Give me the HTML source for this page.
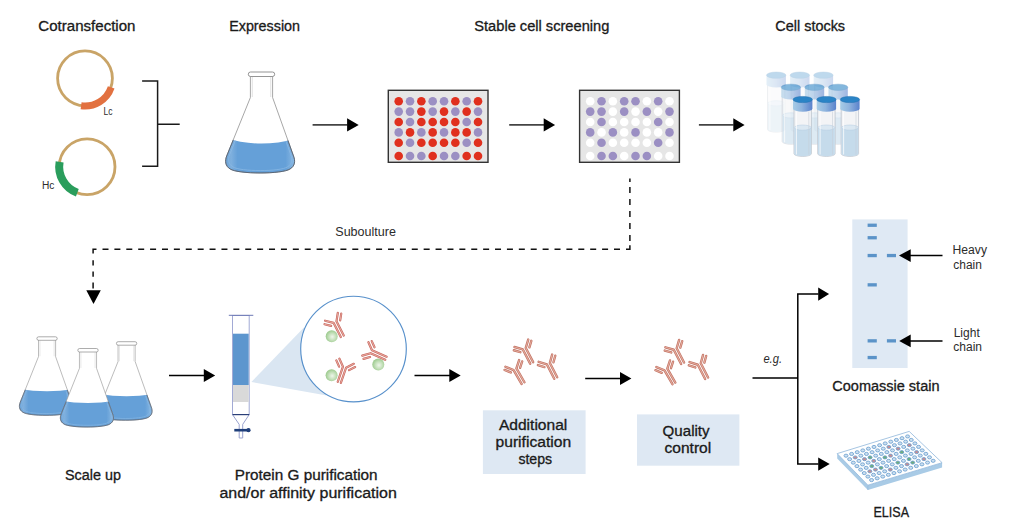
<!DOCTYPE html>
<html><head><meta charset="utf-8"><style>
html,body{margin:0;padding:0;background:#fff;}
body{width:1014px;height:526px;overflow:hidden;}
svg{display:block;}
text{font-family:"Liberation Sans",sans-serif;}
.t{font-size:14px;fill:#1a1a1a;stroke:#1a1a1a;stroke-width:0.3px;}
.s{font-size:12px;fill:#2b2b2b;}
</style></head><body>
<svg width="1014" height="526" viewBox="0 0 1014 526">
<defs>
  <!-- flask: centered x=0, rim top y=0 -->
  <clipPath id="flaskClip"><path d="M-11.1,4 L-11.1,25.5 L-34.8,84 C-36.8,89 -36.3,94 -31.3,97 C-23.3,102.3 20.5,102.3 28.5,97 C33.5,94 34,89 32,84 L11.1,25.5 L11.1,4 Z"/></clipPath>
  <linearGradient id="liqHi" x1="0" x2="1" y1="0" y2="0">
    <stop offset="0" stop-color="#5a98d2"/><stop offset="0.12" stop-color="#7fb0de"/><stop offset="0.2" stop-color="#65a0d8"/>
    <stop offset="0.8" stop-color="#65a0d8"/><stop offset="0.9" stop-color="#86b6e2"/><stop offset="1" stop-color="#5a98d2"/>
  </linearGradient>
<g id="flask">
    <path d="M-11.1,4 L-11.1,25.5 L-34.8,84 C-36.8,89 -36.3,94 -31.3,97 C-23.3,102.3 20.5,102.3 28.5,97 C33.5,94 34,89 32,84 L11.1,25.5 L11.1,4 Z" fill="#fff"/>
    <g clip-path="url(#flaskClip)">
      <path d="M-40,64.6 Q0,78.6 40,64.6 L40,110 L-40,110 Z" fill="url(#liqHi)"/>
      <line x1="-9.2" y1="5" x2="-9.2" y2="25" stroke="#e6e6e6" stroke-width="1.2"/>
      <line x1="9.2" y1="5" x2="9.2" y2="25" stroke="#e6e6e6" stroke-width="1.2"/>
    </g>
    <path d="M-11.1,4 L-11.1,25.5 L-34.8,84 C-36.8,89 -36.3,94 -31.3,97 C-23.3,102.3 20.5,102.3 28.5,97 C33.5,94 34,89 32,84 L11.1,25.5 L11.1,4" fill="none" stroke="#8a8a8a" stroke-width="0.75"/>
    <g clip-path="url(#liqClipflask)"><path d="M-11.1,4 L-11.1,25.5 L-34.8,84 C-36.8,89 -36.3,94 -31.3,97 C-23.3,102.3 20.5,102.3 28.5,97 C33.5,94 34,89 32,84 L11.1,25.5 L11.1,4" fill="none" stroke="#4b5a6e" stroke-width="0.8"/>
    <path d="M-11.1,4 L-11.1,25.5 L-34.8,84 C-36.8,89 -36.3,94 -31.3,97 C-23.3,102.3 20.5,102.3 28.5,97 C33.5,94 34,89 32,84 L11.1,25.5 L11.1,4" transform="translate(0,66.6) scale(0.915,0.93) translate(0,-66.6)" fill="none" stroke="#8dbbe5" stroke-width="0.9" opacity="0.85"/></g>
    <rect x="-13.2" y="0" width="26.4" height="4.5" rx="2.25" fill="#fff" stroke="#7a7a7a" stroke-width="0.8"/>
  </g>
  <clipPath id="liqClipflask"><path d="M-40,64.6 Q0,78.6 40,64.6 L40,110 L-40,110 Z"/></clipPath><g id="flask2">
    <path d="M-11.1,4 L-11.1,25.5 L-34.8,84 C-36.8,89 -36.3,94 -31.3,97 C-23.3,102.3 20.5,102.3 28.5,97 C33.5,94 34,89 32,84 L11.1,25.5 L11.1,4 Z" fill="#fff"/>
    <g clip-path="url(#flaskClip)">
      <path d="M-40,66.5 Q0,73.5 40,66.5 L40,110 L-40,110 Z" fill="url(#liqHi)"/>
      <line x1="-9.2" y1="5" x2="-9.2" y2="25" stroke="#e6e6e6" stroke-width="1.2"/>
      <line x1="9.2" y1="5" x2="9.2" y2="25" stroke="#e6e6e6" stroke-width="1.2"/>
    </g>
    <path d="M-11.1,4 L-11.1,25.5 L-34.8,84 C-36.8,89 -36.3,94 -31.3,97 C-23.3,102.3 20.5,102.3 28.5,97 C33.5,94 34,89 32,84 L11.1,25.5 L11.1,4" fill="none" stroke="#8a8a8a" stroke-width="0.75"/>
    <g clip-path="url(#liqClipflask2)"><path d="M-11.1,4 L-11.1,25.5 L-34.8,84 C-36.8,89 -36.3,94 -31.3,97 C-23.3,102.3 20.5,102.3 28.5,97 C33.5,94 34,89 32,84 L11.1,25.5 L11.1,4" fill="none" stroke="#4b5a6e" stroke-width="0.8"/>
    <path d="M-11.1,4 L-11.1,25.5 L-34.8,84 C-36.8,89 -36.3,94 -31.3,97 C-23.3,102.3 20.5,102.3 28.5,97 C33.5,94 34,89 32,84 L11.1,25.5 L11.1,4" transform="translate(0,68.5) scale(0.915,0.93) translate(0,-68.5)" fill="none" stroke="#8dbbe5" stroke-width="0.9" opacity="0.85"/></g>
    <rect x="-13.2" y="0" width="26.4" height="4.5" rx="2.25" fill="#fff" stroke="#7a7a7a" stroke-width="0.8"/>
  </g>
  <clipPath id="liqClipflask2"><path d="M-40,66.5 Q0,73.5 40,66.5 L40,110 L-40,110 Z"/></clipPath>
  <marker id="ah" viewBox="0 0 12 13" refX="0" refY="6.5" markerWidth="12" markerHeight="13" markerUnits="userSpaceOnUse" orient="auto"><path d="M0,0 L12,6.5 L0,13 Z" fill="#000"/></marker>
  <!-- antibody, fork at origin, stem down -->
  
  <radialGradient id="ball" cx="0.55" cy="0.55" r="0.55">
    <stop offset="0" stop-color="#eef6ea"/><stop offset="0.55" stop-color="#c4e0ba"/><stop offset="1" stop-color="#9cca8e"/>
  </radialGradient>
  <linearGradient id="capSide" x1="0" x2="1" y1="0" y2="0">
    <stop offset="0" stop-color="#a6cce6"/><stop offset="0.45" stop-color="#8fb4de"/><stop offset="1" stop-color="#5a82cc"/>
  </linearGradient>
  <linearGradient id="capTop" x1="0" x2="1" y1="0" y2="1">
    <stop offset="0" stop-color="#2d7fc2"/><stop offset="1" stop-color="#3a87c8"/>
  </linearGradient>
  <g id="vial">
    <path d="M1,12 L1,57.3 A8.7,2.7 0 0 0 18.4,57.3 L18.4,12 Z" fill="#f3f4f6" stroke="#b4bcc5" stroke-width="0.7"/>
    <path d="M1.3,31.4 L1.3,57.3 A8.4,2.5 0 0 0 18.1,57.3 L18.1,31.4 Z" fill="#c5dbeb"/>
    <ellipse cx="9.7" cy="31.2" rx="8.4" ry="2.6" fill="#dbe8f2" stroke="#b3cbe0" stroke-width="0.5"/>
    <line x1="3.4" y1="15" x2="3.4" y2="58" stroke="#ffffff" stroke-width="1.1" opacity="0.7"/>
    <line x1="15.8" y1="15" x2="15.8" y2="58" stroke="#c7d0da" stroke-width="0.7" opacity="0.8"/>
    <path d="M0,3.1 L0,12.3 A9.7,3 0 0 0 19.4,12.3 L19.4,3.1 Z" fill="url(#capSide)"/>
    <ellipse cx="9.7" cy="3.1" rx="9.7" ry="3.1" fill="#2b84c6" stroke="#2370b0" stroke-width="0.5"/>
  </g>
</defs>

<!-- ============ TOP ROW ============ -->
<text class="t" x="38.3" y="30.9" textLength="97.2" lengthAdjust="spacingAndGlyphs">Cotransfection</text>
<text class="t" x="229.2" y="30.9" textLength="70.8" lengthAdjust="spacingAndGlyphs">Expression</text>
<text class="t" x="474.3" y="30.9" textLength="135" lengthAdjust="spacingAndGlyphs">Stable cell screening</text>
<text class="t" x="775.3" y="30.9" textLength="69.8" lengthAdjust="spacingAndGlyphs">Cell stocks</text>

<!-- plasmids -->
<circle cx="85" cy="78.3" r="27.4" fill="none" stroke="#c9a467" stroke-width="2.8"/>
<path d="M111.2,87.3 A27.7,27.7 0 0 1 81.1,105.7" fill="none" stroke="#e27140" stroke-width="7"/>
<text x="103.4" y="114.6" font-size="10.5" fill="#2b2b2b" textLength="9" lengthAdjust="spacingAndGlyphs">Lc</text>
<circle cx="87.1" cy="166.7" r="27.9" fill="none" stroke="#c9a467" stroke-width="2.8"/>
<path d="M77.33,192.83 A27.9,27.9 0 0 1 59.62,161.86" fill="none" stroke="#2a9d5c" stroke-width="8"/>
<text x="42" y="189.1" font-size="10" fill="#2b2b2b" textLength="12.4" lengthAdjust="spacingAndGlyphs">Hc</text>

<!-- bracket -->
<path d="M142.1,80.9 H157.6 V166.3 H142.1 M157.6,124.3 H179.7" fill="none" stroke="#1a1a1a" stroke-width="1.5"/>

<!-- expression flask -->
<use href="#flask" transform="translate(261.5,72)"/>

<!-- arrows top -->
<g stroke="#444" stroke-width="1.6">
  <line x1="312.6" y1="124.9" x2="347.5" y2="124.9"/>
  <line x1="509.2" y1="124.9" x2="544" y2="124.9"/>
  <line x1="698.9" y1="124.9" x2="733.6" y2="124.9"/>
</g>
<path d="M347.1,118.2 L358.7,124.9 L347.1,131.6 Z M543.7,118.2 L555.1,124.9 L543.7,131.6 Z M733.3,118.2 L744.6,124.9 L733.3,131.6 Z" fill="#000"/>

<!-- plate 1 -->
<rect x="388.3" y="90.3" width="99.7" height="72" fill="#e6e6e6" stroke="#333" stroke-width="1.4"/>
<g><circle cx="398.70" cy="101.30" r="4.3" fill="#e0301e"/><circle cx="410.03" cy="101.30" r="4.3" fill="#9b8fc3"/><circle cx="421.36" cy="101.30" r="4.3" fill="#e0301e"/><circle cx="432.69" cy="101.30" r="4.3" fill="#9b8fc3"/><circle cx="444.02" cy="101.30" r="4.3" fill="#9b8fc3"/><circle cx="455.35" cy="101.30" r="4.3" fill="#e0301e"/><circle cx="466.68" cy="101.30" r="4.3" fill="#9b8fc3"/><circle cx="478.01" cy="101.30" r="4.3" fill="#e0301e"/><circle cx="398.70" cy="111.60" r="4.3" fill="#9b8fc3"/><circle cx="410.03" cy="111.60" r="4.3" fill="#9b8fc3"/><circle cx="421.36" cy="111.60" r="4.3" fill="#e0301e"/><circle cx="432.69" cy="111.60" r="4.3" fill="#9b8fc3"/><circle cx="444.02" cy="111.60" r="4.3" fill="#e0301e"/><circle cx="455.35" cy="111.60" r="4.3" fill="#9b8fc3"/><circle cx="466.68" cy="111.60" r="4.3" fill="#e0301e"/><circle cx="478.01" cy="111.60" r="4.3" fill="#9b8fc3"/><circle cx="398.70" cy="122.00" r="4.3" fill="#e0301e"/><circle cx="410.03" cy="122.00" r="4.3" fill="#9b8fc3"/><circle cx="421.36" cy="122.00" r="4.3" fill="#e0301e"/><circle cx="432.69" cy="122.00" r="4.3" fill="#e0301e"/><circle cx="444.02" cy="122.00" r="4.3" fill="#e0301e"/><circle cx="455.35" cy="122.00" r="4.3" fill="#e0301e"/><circle cx="466.68" cy="122.00" r="4.3" fill="#9b8fc3"/><circle cx="478.01" cy="122.00" r="4.3" fill="#e0301e"/><circle cx="398.70" cy="132.40" r="4.3" fill="#9b8fc3"/><circle cx="410.03" cy="132.40" r="4.3" fill="#e0301e"/><circle cx="421.36" cy="132.40" r="4.3" fill="#9b8fc3"/><circle cx="432.69" cy="132.40" r="4.3" fill="#e0301e"/><circle cx="444.02" cy="132.40" r="4.3" fill="#9b8fc3"/><circle cx="455.35" cy="132.40" r="4.3" fill="#e0301e"/><circle cx="466.68" cy="132.40" r="4.3" fill="#e0301e"/><circle cx="478.01" cy="132.40" r="4.3" fill="#9b8fc3"/><circle cx="398.70" cy="142.80" r="4.3" fill="#e0301e"/><circle cx="410.03" cy="142.80" r="4.3" fill="#9b8fc3"/><circle cx="421.36" cy="142.80" r="4.3" fill="#e0301e"/><circle cx="432.69" cy="142.80" r="4.3" fill="#e0301e"/><circle cx="444.02" cy="142.80" r="4.3" fill="#e0301e"/><circle cx="455.35" cy="142.80" r="4.3" fill="#e0301e"/><circle cx="466.68" cy="142.80" r="4.3" fill="#9b8fc3"/><circle cx="478.01" cy="142.80" r="4.3" fill="#e0301e"/><circle cx="398.70" cy="156.00" r="4.3" fill="#e0301e"/><circle cx="410.03" cy="156.00" r="4.3" fill="#9b8fc3"/><circle cx="421.36" cy="156.00" r="4.3" fill="#9b8fc3"/><circle cx="432.69" cy="156.00" r="4.3" fill="#e0301e"/><circle cx="444.02" cy="156.00" r="4.3" fill="#9b8fc3"/><circle cx="455.35" cy="156.00" r="4.3" fill="#9b8fc3"/><circle cx="466.68" cy="156.00" r="4.3" fill="#e0301e"/><circle cx="478.01" cy="156.00" r="4.3" fill="#e0301e"/></g>
<!-- plate 2 -->
<rect x="579.6" y="90.3" width="99.8" height="72" fill="#e6e6e6" stroke="#333" stroke-width="1.4"/>
<g><circle cx="590.20" cy="101.30" r="4.3" fill="#ffffff"/><circle cx="601.53" cy="101.30" r="4.3" fill="#9b8fc3"/><circle cx="612.86" cy="101.30" r="4.3" fill="#ffffff"/><circle cx="624.19" cy="101.30" r="4.3" fill="#9b8fc3"/><circle cx="635.52" cy="101.30" r="4.3" fill="#9b8fc3"/><circle cx="646.85" cy="101.30" r="4.3" fill="#ffffff"/><circle cx="658.18" cy="101.30" r="4.3" fill="#9b8fc3"/><circle cx="669.51" cy="101.30" r="4.3" fill="#ffffff"/><circle cx="590.20" cy="111.60" r="4.3" fill="#9b8fc3"/><circle cx="601.53" cy="111.60" r="4.3" fill="#9b8fc3"/><circle cx="612.86" cy="111.60" r="4.3" fill="#ffffff"/><circle cx="624.19" cy="111.60" r="4.3" fill="#9b8fc3"/><circle cx="635.52" cy="111.60" r="4.3" fill="#ffffff"/><circle cx="646.85" cy="111.60" r="4.3" fill="#9b8fc3"/><circle cx="658.18" cy="111.60" r="4.3" fill="#ffffff"/><circle cx="669.51" cy="111.60" r="4.3" fill="#9b8fc3"/><circle cx="590.20" cy="122.00" r="4.3" fill="#ffffff"/><circle cx="601.53" cy="122.00" r="4.3" fill="#9b8fc3"/><circle cx="612.86" cy="122.00" r="4.3" fill="#ffffff"/><circle cx="624.19" cy="122.00" r="4.3" fill="#ffffff"/><circle cx="635.52" cy="122.00" r="4.3" fill="#ffffff"/><circle cx="646.85" cy="122.00" r="4.3" fill="#ffffff"/><circle cx="658.18" cy="122.00" r="4.3" fill="#9b8fc3"/><circle cx="669.51" cy="122.00" r="4.3" fill="#ffffff"/><circle cx="590.20" cy="132.40" r="4.3" fill="#9b8fc3"/><circle cx="601.53" cy="132.40" r="4.3" fill="#ffffff"/><circle cx="612.86" cy="132.40" r="4.3" fill="#9b8fc3"/><circle cx="624.19" cy="132.40" r="4.3" fill="#ffffff"/><circle cx="635.52" cy="132.40" r="4.3" fill="#9b8fc3"/><circle cx="646.85" cy="132.40" r="4.3" fill="#ffffff"/><circle cx="658.18" cy="132.40" r="4.3" fill="#ffffff"/><circle cx="669.51" cy="132.40" r="4.3" fill="#9b8fc3"/><circle cx="590.20" cy="142.80" r="4.3" fill="#ffffff"/><circle cx="601.53" cy="142.80" r="4.3" fill="#9b8fc3"/><circle cx="612.86" cy="142.80" r="4.3" fill="#ffffff"/><circle cx="624.19" cy="142.80" r="4.3" fill="#ffffff"/><circle cx="635.52" cy="142.80" r="4.3" fill="#ffffff"/><circle cx="646.85" cy="142.80" r="4.3" fill="#ffffff"/><circle cx="658.18" cy="142.80" r="4.3" fill="#9b8fc3"/><circle cx="669.51" cy="142.80" r="4.3" fill="#ffffff"/><circle cx="590.20" cy="156.00" r="4.3" fill="#ffffff"/><circle cx="601.53" cy="156.00" r="4.3" fill="#9b8fc3"/><circle cx="612.86" cy="156.00" r="4.3" fill="#9b8fc3"/><circle cx="624.19" cy="156.00" r="4.3" fill="#ffffff"/><circle cx="635.52" cy="156.00" r="4.3" fill="#9b8fc3"/><circle cx="646.85" cy="156.00" r="4.3" fill="#9b8fc3"/><circle cx="658.18" cy="156.00" r="4.3" fill="#ffffff"/><circle cx="669.51" cy="156.00" r="4.3" fill="#ffffff"/></g>

<!-- vials -->
<g opacity="0.3">
  <use href="#vial" x="766.5" y="72.1"/><use href="#vial" x="790.1" y="72.1"/><use href="#vial" x="813.7" y="72.1"/>
</g>
<g opacity="0.58">
  <use href="#vial" x="781.2" y="84.2"/><use href="#vial" x="804.8" y="84.2"/><use href="#vial" x="828.4" y="84.2"/>
</g>
<g>
  <use href="#vial" x="793" y="96.4"/><use href="#vial" x="816.7" y="96.4"/><use href="#vial" x="840.2" y="96.4"/>
</g>

<!-- dashed subculture -->
<path d="M629.9,178.6V182M629.9,187.1V193.1M629.9,199V205.1M629.9,211V217.1M629.9,223.1V229.1M629.9,235V241.1M629.9,245.3V249.3H626M102.50,249.3H108.50M114.39,249.3H120.39M126.29,249.3H132.29M138.19,249.3H144.19M150.08,249.3H156.08M161.97,249.3H167.97M173.87,249.3H179.87M185.76,249.3H191.76M197.66,249.3H203.66M209.56,249.3H215.56M221.45,249.3H227.45M233.34,249.3H239.34M245.24,249.3H251.24M257.13,249.3H263.13M269.03,249.3H275.03M280.92,249.3H286.92M292.82,249.3H298.82M304.72,249.3H310.72M316.61,249.3H322.61M328.50,249.3H334.50M340.40,249.3H346.40M352.29,249.3H358.29M364.19,249.3H370.19M376.08,249.3H382.08M387.98,249.3H393.98M399.88,249.3H405.88M411.77,249.3H417.77M423.66,249.3H429.66M435.56,249.3H441.56M447.45,249.3H453.45M459.35,249.3H465.35M471.25,249.3H477.25M483.14,249.3H489.14M495.03,249.3H501.03M506.93,249.3H512.93M518.83,249.3H524.83M530.72,249.3H536.72M542.62,249.3H548.62M554.51,249.3H560.51M566.40,249.3H572.40M578.30,249.3H584.30M590.19,249.3H596.19M602.09,249.3H608.09M613.98,249.3H619.98M96.5,249.3H93.1V253.4M93.1,260.2V265.6M93.1,271.4V276.8M93.1,282.5V288.5" fill="none" stroke="#111" stroke-width="1.5"/>
<path d="M86.3,290.2 L100.8,290.2 L93.5,304 Z" fill="#000"/>
<text class="s" x="335.3" y="235.6" textLength="60.6" lengthAdjust="spacingAndGlyphs" font-size="12.5">Suboulture</text>

<!-- ============ BOTTOM ROW ============ -->
<!-- scale up flasks -->
<use href="#flask2" transform="translate(47.05,336.8) scale(0.77,0.778)"/>
<use href="#flask2" transform="translate(126.6,341.7) scale(0.77,0.778)"/>
<use href="#flask2" transform="translate(88,348.5) scale(0.77,0.778)"/>

<text class="t" x="65" y="480.1" textLength="56" lengthAdjust="spacingAndGlyphs">Scale up</text>

<!-- arrows bottom -->
<g stroke="#000" stroke-width="1.5">
  <line x1="169" y1="375.5" x2="204.5" y2="375.5"/>
  <line x1="414.5" y1="375.5" x2="450" y2="375.5"/>
  <line x1="585.2" y1="378.5" x2="620.5" y2="378.5"/>
</g>
<path d="M203.8,369 L215.2,375.5 L203.8,382 Z M449.3,369 L460.7,375.5 L449.3,382 Z M620,372 L631.4,378.5 L620,385 Z" fill="#000"/>

<!-- cone + circle -->
<path d="M251.4,382 L303.9,327.6 L326.7,395.4 Z" fill="#dae6f2"/>
<circle cx="353.5" cy="349" r="52.8" fill="#fff" stroke="#5790cb" stroke-width="1.15"/>

<!-- column -->
<rect x="232.5" y="315.5" width="16.7" height="99" fill="#fff" stroke="#a2aad5" stroke-width="1"/>
<rect x="233" y="333.7" width="15.7" height="51.3" fill="#5d96ce"/>
<rect x="233" y="385" width="15.7" height="17" fill="#d9d9d9"/>
<line x1="228.8" y1="315.3" x2="253.3" y2="315.3" stroke="#6d78b5" stroke-width="1"/>
<path d="M232.5,414.6 L239.2,424.4 L239.2,438 L242.7,438 L242.7,424.4 L249.2,414.6" fill="#fff" stroke="#9aa3cf" stroke-width="1"/>
<line x1="232.5" y1="414.6" x2="249.2" y2="414.6" stroke="#2a3f78" stroke-width="1.2"/>
<line x1="234.3" y1="430.2" x2="248" y2="430.2" stroke="#1f3f7a" stroke-width="2.6"/>
<circle cx="248.5" cy="430.2" r="2.1" fill="#1f3f7a"/>

<text class="t" x="234.8" y="480.4" textLength="142.8" lengthAdjust="spacingAndGlyphs">Protein G purification</text>
<text class="t" x="219.4" y="498" textLength="177.4" lengthAdjust="spacingAndGlyphs">and/or affinity purification</text>

<!-- antibodies in circle -->
<circle cx="331.7" cy="336.2" r="6" fill="url(#ball)"/>
<circle cx="331.6" cy="375.3" r="6" fill="url(#ball)"/>
<circle cx="378.3" cy="364.6" r="6" fill="url(#ball)"/>
<g transform="translate(335.0,322.1) rotate(-27.0)" fill="none" stroke-linecap="round" stroke-linejoin="round"><path d="M-1.65,16.00 L-1.65,0.00 L-8.22,-5.71M1.65,16.00 L1.65,0.00 L6.76,-7.04M-5.15,1.59 L-10.29,-2.87M5.42,0.76 L9.42,-4.74" stroke="#c4625a" stroke-width="2.2"/><path d="M-1.65,16.00 L-1.65,0.00 L-8.22,-5.71M1.65,16.00 L1.65,0.00 L6.76,-7.04M-5.15,1.59 L-10.29,-2.87M5.42,0.76 L9.42,-4.74" stroke="#e6a49a" stroke-width="1.1"/></g>
<g transform="translate(344.5,367.2) rotate(19.0)" fill="none" stroke-linecap="round" stroke-linejoin="round"><path d="M-1.65,16.00 L-1.65,0.00 L-7.58,-6.36M1.65,16.00 L1.65,0.00 L7.69,-6.26M-5.30,1.22 L-9.94,-3.76M5.28,1.28 L10.00,-3.61" stroke="#c4625a" stroke-width="2.2"/><path d="M-1.65,16.00 L-1.65,0.00 L-7.58,-6.36M1.65,16.00 L1.65,0.00 L7.69,-6.26M-5.30,1.22 L-9.94,-3.76M5.28,1.28 L10.00,-3.61" stroke="#e6a49a" stroke-width="1.1"/></g>
<g transform="translate(371.3,351.7) rotate(-66.0)" fill="none" stroke-linecap="round" stroke-linejoin="round"><path d="M-1.65,16.00 L-1.65,0.00 L-7.24,-6.66M1.65,16.00 L1.65,0.00 L7.47,-6.47M-5.36,1.02 L-9.73,-4.19M5.32,1.15 L9.87,-3.90" stroke="#c4625a" stroke-width="2.2"/><path d="M-1.65,16.00 L-1.65,0.00 L-7.24,-6.66M1.65,16.00 L1.65,0.00 L7.47,-6.47M-5.36,1.02 L-9.73,-4.19M5.32,1.15 L9.87,-3.90" stroke="#e6a49a" stroke-width="1.1"/></g>

<!-- antibody groups -->
<g id="abgrp">
  <g transform="translate(524.3,348.7) rotate(-27.5)" fill="none" stroke-linecap="round" stroke-linejoin="round"><path d="M-1.65,16.00 L-1.65,0.00 L-7.91,-6.04M1.65,16.00 L1.65,0.00 L7.69,-6.26M-5.09,1.26 L-9.98,-3.46M5.14,1.14 L9.86,-3.75" stroke="#c17263" stroke-width="2.4"/><path d="M-1.65,16.00 L-1.65,0.00 L-7.91,-6.04M1.65,16.00 L1.65,0.00 L7.69,-6.26M-5.09,1.26 L-9.98,-3.46M5.14,1.14 L9.86,-3.75" stroke="#e3aa9c" stroke-width="1.1"/></g>
  <g transform="translate(515.0,369.2) rotate(-30.0)" fill="none" stroke-linecap="round" stroke-linejoin="round"><path d="M-1.65,16.00 L-1.65,0.00 L-7.01,-6.86M1.65,16.00 L1.65,0.00 L8.12,-5.82M-5.24,0.77 L-9.42,-4.59M5.05,1.38 L10.10,-3.17" stroke="#c17263" stroke-width="2.4"/><path d="M-1.65,16.00 L-1.65,0.00 L-7.01,-6.86M1.65,16.00 L1.65,0.00 L8.12,-5.82M-5.24,0.77 L-9.42,-4.59M5.05,1.38 L10.10,-3.17" stroke="#e3aa9c" stroke-width="1.1"/></g>
  <g transform="translate(548.4,363.7) rotate(-27.2)" fill="none" stroke-linecap="round" stroke-linejoin="round"><path d="M-1.65,16.00 L-1.65,0.00 L-7.80,-6.15M1.65,16.00 L1.65,0.00 L7.53,-6.41M-5.11,1.20 L-9.92,-3.61M5.16,1.05 L9.76,-3.96" stroke="#c17263" stroke-width="2.4"/><path d="M-1.65,16.00 L-1.65,0.00 L-7.80,-6.15M1.65,16.00 L1.65,0.00 L7.53,-6.41M-5.11,1.20 L-9.92,-3.61M5.16,1.05 L9.76,-3.96" stroke="#e3aa9c" stroke-width="1.1"/></g>
</g>
<use href="#abgrp" transform="translate(150.9,0.3)"/>

<!-- boxes -->
<rect x="482.9" y="410.3" width="102.7" height="63.7" fill="#dee8f3"/>
<text class="t" x="498.9" y="429.6" textLength="68.4" lengthAdjust="spacingAndGlyphs">Additional</text>
<text class="t" x="495.5" y="447" textLength="75.6" lengthAdjust="spacingAndGlyphs">purification</text>
<text class="t" x="518.4" y="464.3" textLength="33.7" lengthAdjust="spacingAndGlyphs">steps</text>
<rect x="637" y="414.4" width="102.4" height="51.3" fill="#dee8f3"/>
<text class="t" x="662.6" y="435.7" textLength="47" lengthAdjust="spacingAndGlyphs">Quality</text>
<text class="t" x="664.5" y="453.2" textLength="46.7" lengthAdjust="spacingAndGlyphs">control</text>

<!-- branch -->
<path d="M752.5,378.1 H797.8 M818.5,294.1 H797.8 V464.1 H818.5" fill="none" stroke="#000" stroke-width="1.5"/>
<path d="M818.2,287.4 L829.1,294.1 L818.2,300.8 Z M818.2,457.4 L829.7,464.1 L818.2,470.8 Z" fill="#000"/>
<text x="763.4" y="362.6" font-size="12" font-style="italic" fill="#2b2b2b" textLength="18.6" lengthAdjust="spacingAndGlyphs">e.g.</text>

<!-- gel -->
<rect x="852.3" y="219.4" width="55.3" height="148.6" fill="#dfe9f4"/>
<g fill="#5b93c8">
  <rect x="867.6" y="223.6" width="9.2" height="3.3"/>
  <rect x="867.6" y="236.1" width="9.2" height="3.3"/>
  <rect x="867.6" y="253.9" width="9.2" height="3.3"/>
  <rect x="867.6" y="283.2" width="9.2" height="3.3"/>
  <rect x="867.6" y="339.2" width="9.2" height="3.3"/>
  <rect x="867.6" y="355.9" width="9.2" height="3.3"/>
  <rect x="886.9" y="253.9" width="9.1" height="3.3"/>
  <rect x="886.9" y="339.2" width="9.1" height="3.3"/>
</g>
<g stroke="#000" stroke-width="1.5">
  <line x1="910" y1="255.6" x2="942.5" y2="255.6"/>
  <line x1="910" y1="340.9" x2="942.5" y2="340.9"/>
</g>
<path d="M910.7,249.2 L899,255.6 L910.7,262 Z M910.7,334.5 L899.2,340.9 L910.7,347.3 Z" fill="#000"/>
<g class="s">
<text x="952.6" y="253.8" textLength="34.4" lengthAdjust="spacingAndGlyphs">Heavy</text>
<text x="953.3" y="268.7" textLength="28.6" lengthAdjust="spacingAndGlyphs">chain</text>
<text x="953.7" y="336.7">Light</text>
<text x="953.3" y="351">chain</text>
</g>
<text class="t" x="832.3" y="391.1" textLength="107.2" lengthAdjust="spacingAndGlyphs">Coomassie stain</text>

<!-- ELISA plate -->
<g><path d="M837.2,453.6 L867.9,485.2 L942.1,462.7 L942.1,467.5 L867.9,490.0 L837.2,458.40000000000003 Z" fill="#a9cbe6"/><path d="M867.9,485.2 L867.9,490.0" stroke="#8fb6da" stroke-width="0.6"/><path d="M837.2,453.6 L909.2,431.4 L942.1,462.7 L867.9,485.2 Z" fill="#fff" stroke="#8fb6da" stroke-width="0.8"/><ellipse cx="846.00" cy="455.70" rx="2.0" ry="1.55" fill="#cde0f0" stroke="#6c9fd0" stroke-width="0.85"/><ellipse cx="849.65" cy="459.18" rx="2.0" ry="1.55" fill="#cde0f0" stroke="#6c9fd0" stroke-width="0.85"/><ellipse cx="853.30" cy="462.66" rx="2.0" ry="1.55" fill="#cde0f0" stroke="#6c9fd0" stroke-width="0.85"/><ellipse cx="856.95" cy="466.14" rx="2.0" ry="1.55" fill="#cde0f0" stroke="#6c9fd0" stroke-width="0.85"/><ellipse cx="860.60" cy="469.62" rx="2.0" ry="1.55" fill="#cde0f0" stroke="#6c9fd0" stroke-width="0.85"/><ellipse cx="864.25" cy="473.10" rx="2.0" ry="1.55" fill="#cde0f0" stroke="#6c9fd0" stroke-width="0.85"/><ellipse cx="867.90" cy="476.58" rx="2.0" ry="1.55" fill="#cde0f0" stroke="#6c9fd0" stroke-width="0.85"/><ellipse cx="871.55" cy="480.06" rx="2.0" ry="1.55" fill="#cde0f0" stroke="#6c9fd0" stroke-width="0.85"/><ellipse cx="851.60" cy="453.95" rx="2.0" ry="1.55" fill="#cde0f0" stroke="#6c9fd0" stroke-width="0.85"/><ellipse cx="855.25" cy="457.43" rx="2.0" ry="1.55" fill="#c58e94" stroke="#6c9fd0" stroke-width="0.85"/><ellipse cx="858.90" cy="460.91" rx="2.0" ry="1.55" fill="#cde0f0" stroke="#6c9fd0" stroke-width="0.85"/><ellipse cx="862.55" cy="464.39" rx="2.0" ry="1.55" fill="#cde0f0" stroke="#6c9fd0" stroke-width="0.85"/><ellipse cx="866.20" cy="467.87" rx="2.0" ry="1.55" fill="#cde0f0" stroke="#6c9fd0" stroke-width="0.85"/><ellipse cx="869.85" cy="471.35" rx="2.0" ry="1.55" fill="#c58e94" stroke="#6c9fd0" stroke-width="0.85"/><ellipse cx="873.50" cy="474.83" rx="2.0" ry="1.55" fill="#cde0f0" stroke="#6c9fd0" stroke-width="0.85"/><ellipse cx="877.15" cy="478.31" rx="2.0" ry="1.55" fill="#cde0f0" stroke="#6c9fd0" stroke-width="0.85"/><ellipse cx="857.20" cy="452.20" rx="2.0" ry="1.55" fill="#cde0f0" stroke="#6c9fd0" stroke-width="0.85"/><ellipse cx="860.85" cy="455.68" rx="2.0" ry="1.55" fill="#cde0f0" stroke="#6c9fd0" stroke-width="0.85"/><ellipse cx="864.50" cy="459.16" rx="2.0" ry="1.55" fill="#c58e94" stroke="#6c9fd0" stroke-width="0.85"/><ellipse cx="868.15" cy="462.64" rx="2.0" ry="1.55" fill="#cde0f0" stroke="#6c9fd0" stroke-width="0.85"/><ellipse cx="871.80" cy="466.12" rx="2.0" ry="1.55" fill="#6fae7c" stroke="#6c9fd0" stroke-width="0.85"/><ellipse cx="875.45" cy="469.60" rx="2.0" ry="1.55" fill="#c58e94" stroke="#6c9fd0" stroke-width="0.85"/><ellipse cx="879.10" cy="473.08" rx="2.0" ry="1.55" fill="#cde0f0" stroke="#6c9fd0" stroke-width="0.85"/><ellipse cx="882.75" cy="476.56" rx="2.0" ry="1.55" fill="#cde0f0" stroke="#6c9fd0" stroke-width="0.85"/><ellipse cx="862.80" cy="450.45" rx="2.0" ry="1.55" fill="#cde0f0" stroke="#6c9fd0" stroke-width="0.85"/><ellipse cx="866.45" cy="453.93" rx="2.0" ry="1.55" fill="#cde0f0" stroke="#6c9fd0" stroke-width="0.85"/><ellipse cx="870.10" cy="457.41" rx="2.0" ry="1.55" fill="#6fae7c" stroke="#6c9fd0" stroke-width="0.85"/><ellipse cx="873.75" cy="460.89" rx="2.0" ry="1.55" fill="#c58e94" stroke="#6c9fd0" stroke-width="0.85"/><ellipse cx="877.40" cy="464.37" rx="2.0" ry="1.55" fill="#cde0f0" stroke="#6c9fd0" stroke-width="0.85"/><ellipse cx="881.05" cy="467.85" rx="2.0" ry="1.55" fill="#6fae7c" stroke="#6c9fd0" stroke-width="0.85"/><ellipse cx="884.70" cy="471.33" rx="2.0" ry="1.55" fill="#cde0f0" stroke="#6c9fd0" stroke-width="0.85"/><ellipse cx="888.35" cy="474.81" rx="2.0" ry="1.55" fill="#cde0f0" stroke="#6c9fd0" stroke-width="0.85"/><ellipse cx="868.40" cy="448.70" rx="2.0" ry="1.55" fill="#cde0f0" stroke="#6c9fd0" stroke-width="0.85"/><ellipse cx="872.05" cy="452.18" rx="2.0" ry="1.55" fill="#cde0f0" stroke="#6c9fd0" stroke-width="0.85"/><ellipse cx="875.70" cy="455.66" rx="2.0" ry="1.55" fill="#cde0f0" stroke="#6c9fd0" stroke-width="0.85"/><ellipse cx="879.35" cy="459.14" rx="2.0" ry="1.55" fill="#cde0f0" stroke="#6c9fd0" stroke-width="0.85"/><ellipse cx="883.00" cy="462.62" rx="2.0" ry="1.55" fill="#cde0f0" stroke="#6c9fd0" stroke-width="0.85"/><ellipse cx="886.65" cy="466.10" rx="2.0" ry="1.55" fill="#cde0f0" stroke="#6c9fd0" stroke-width="0.85"/><ellipse cx="890.30" cy="469.58" rx="2.0" ry="1.55" fill="#c58e94" stroke="#6c9fd0" stroke-width="0.85"/><ellipse cx="893.95" cy="473.06" rx="2.0" ry="1.55" fill="#cde0f0" stroke="#6c9fd0" stroke-width="0.85"/><ellipse cx="874.00" cy="446.95" rx="2.0" ry="1.55" fill="#cde0f0" stroke="#6c9fd0" stroke-width="0.85"/><ellipse cx="877.65" cy="450.43" rx="2.0" ry="1.55" fill="#cde0f0" stroke="#6c9fd0" stroke-width="0.85"/><ellipse cx="881.30" cy="453.91" rx="2.0" ry="1.55" fill="#cde0f0" stroke="#6c9fd0" stroke-width="0.85"/><ellipse cx="884.95" cy="457.39" rx="2.0" ry="1.55" fill="#6fae7c" stroke="#6c9fd0" stroke-width="0.85"/><ellipse cx="888.60" cy="460.87" rx="2.0" ry="1.55" fill="#cde0f0" stroke="#6c9fd0" stroke-width="0.85"/><ellipse cx="892.25" cy="464.35" rx="2.0" ry="1.55" fill="#cde0f0" stroke="#6c9fd0" stroke-width="0.85"/><ellipse cx="895.90" cy="467.83" rx="2.0" ry="1.55" fill="#cde0f0" stroke="#6c9fd0" stroke-width="0.85"/><ellipse cx="899.55" cy="471.31" rx="2.0" ry="1.55" fill="#cde0f0" stroke="#6c9fd0" stroke-width="0.85"/><ellipse cx="879.60" cy="445.20" rx="2.0" ry="1.55" fill="#cde0f0" stroke="#6c9fd0" stroke-width="0.85"/><ellipse cx="883.25" cy="448.68" rx="2.0" ry="1.55" fill="#cde0f0" stroke="#6c9fd0" stroke-width="0.85"/><ellipse cx="886.90" cy="452.16" rx="2.0" ry="1.55" fill="#cde0f0" stroke="#6c9fd0" stroke-width="0.85"/><ellipse cx="890.55" cy="455.64" rx="2.0" ry="1.55" fill="#c58e94" stroke="#6c9fd0" stroke-width="0.85"/><ellipse cx="894.20" cy="459.12" rx="2.0" ry="1.55" fill="#cde0f0" stroke="#6c9fd0" stroke-width="0.85"/><ellipse cx="897.85" cy="462.60" rx="2.0" ry="1.55" fill="#6fae7c" stroke="#6c9fd0" stroke-width="0.85"/><ellipse cx="901.50" cy="466.08" rx="2.0" ry="1.55" fill="#cde0f0" stroke="#6c9fd0" stroke-width="0.85"/><ellipse cx="905.15" cy="469.56" rx="2.0" ry="1.55" fill="#cde0f0" stroke="#6c9fd0" stroke-width="0.85"/><ellipse cx="885.20" cy="443.45" rx="2.0" ry="1.55" fill="#cde0f0" stroke="#6c9fd0" stroke-width="0.85"/><ellipse cx="888.85" cy="446.93" rx="2.0" ry="1.55" fill="#c58e94" stroke="#6c9fd0" stroke-width="0.85"/><ellipse cx="892.50" cy="450.41" rx="2.0" ry="1.55" fill="#cde0f0" stroke="#6c9fd0" stroke-width="0.85"/><ellipse cx="896.15" cy="453.89" rx="2.0" ry="1.55" fill="#cde0f0" stroke="#6c9fd0" stroke-width="0.85"/><ellipse cx="899.80" cy="457.37" rx="2.0" ry="1.55" fill="#cde0f0" stroke="#6c9fd0" stroke-width="0.85"/><ellipse cx="903.45" cy="460.85" rx="2.0" ry="1.55" fill="#cde0f0" stroke="#6c9fd0" stroke-width="0.85"/><ellipse cx="907.10" cy="464.33" rx="2.0" ry="1.55" fill="#c58e94" stroke="#6c9fd0" stroke-width="0.85"/><ellipse cx="910.75" cy="467.81" rx="2.0" ry="1.55" fill="#cde0f0" stroke="#6c9fd0" stroke-width="0.85"/><ellipse cx="890.80" cy="441.70" rx="2.0" ry="1.55" fill="#cde0f0" stroke="#6c9fd0" stroke-width="0.85"/><ellipse cx="894.45" cy="445.18" rx="2.0" ry="1.55" fill="#cde0f0" stroke="#6c9fd0" stroke-width="0.85"/><ellipse cx="898.10" cy="448.66" rx="2.0" ry="1.55" fill="#c58e94" stroke="#6c9fd0" stroke-width="0.85"/><ellipse cx="901.75" cy="452.14" rx="2.0" ry="1.55" fill="#6fae7c" stroke="#6c9fd0" stroke-width="0.85"/><ellipse cx="905.40" cy="455.62" rx="2.0" ry="1.55" fill="#cde0f0" stroke="#6c9fd0" stroke-width="0.85"/><ellipse cx="909.05" cy="459.10" rx="2.0" ry="1.55" fill="#6fae7c" stroke="#6c9fd0" stroke-width="0.85"/><ellipse cx="912.70" cy="462.58" rx="2.0" ry="1.55" fill="#6fae7c" stroke="#6c9fd0" stroke-width="0.85"/><ellipse cx="916.35" cy="466.06" rx="2.0" ry="1.55" fill="#cde0f0" stroke="#6c9fd0" stroke-width="0.85"/><ellipse cx="896.40" cy="439.95" rx="2.0" ry="1.55" fill="#cde0f0" stroke="#6c9fd0" stroke-width="0.85"/><ellipse cx="900.05" cy="443.43" rx="2.0" ry="1.55" fill="#cde0f0" stroke="#6c9fd0" stroke-width="0.85"/><ellipse cx="903.70" cy="446.91" rx="2.0" ry="1.55" fill="#cde0f0" stroke="#6c9fd0" stroke-width="0.85"/><ellipse cx="907.35" cy="450.39" rx="2.0" ry="1.55" fill="#cde0f0" stroke="#6c9fd0" stroke-width="0.85"/><ellipse cx="911.00" cy="453.87" rx="2.0" ry="1.55" fill="#cde0f0" stroke="#6c9fd0" stroke-width="0.85"/><ellipse cx="914.65" cy="457.35" rx="2.0" ry="1.55" fill="#cde0f0" stroke="#6c9fd0" stroke-width="0.85"/><ellipse cx="918.30" cy="460.83" rx="2.0" ry="1.55" fill="#cde0f0" stroke="#6c9fd0" stroke-width="0.85"/><ellipse cx="921.95" cy="464.31" rx="2.0" ry="1.55" fill="#cde0f0" stroke="#6c9fd0" stroke-width="0.85"/><ellipse cx="902.00" cy="438.20" rx="2.0" ry="1.55" fill="#cde0f0" stroke="#6c9fd0" stroke-width="0.85"/><ellipse cx="905.65" cy="441.68" rx="2.0" ry="1.55" fill="#cde0f0" stroke="#6c9fd0" stroke-width="0.85"/><ellipse cx="909.30" cy="445.16" rx="2.0" ry="1.55" fill="#c58e94" stroke="#6c9fd0" stroke-width="0.85"/><ellipse cx="912.95" cy="448.64" rx="2.0" ry="1.55" fill="#cde0f0" stroke="#6c9fd0" stroke-width="0.85"/><ellipse cx="916.60" cy="452.12" rx="2.0" ry="1.55" fill="#c58e94" stroke="#6c9fd0" stroke-width="0.85"/><ellipse cx="920.25" cy="455.60" rx="2.0" ry="1.55" fill="#cde0f0" stroke="#6c9fd0" stroke-width="0.85"/><ellipse cx="923.90" cy="459.08" rx="2.0" ry="1.55" fill="#c58e94" stroke="#6c9fd0" stroke-width="0.85"/><ellipse cx="927.55" cy="462.56" rx="2.0" ry="1.55" fill="#cde0f0" stroke="#6c9fd0" stroke-width="0.85"/><ellipse cx="907.60" cy="436.45" rx="2.0" ry="1.55" fill="#cde0f0" stroke="#6c9fd0" stroke-width="0.85"/><ellipse cx="911.25" cy="439.93" rx="2.0" ry="1.55" fill="#cde0f0" stroke="#6c9fd0" stroke-width="0.85"/><ellipse cx="914.90" cy="443.41" rx="2.0" ry="1.55" fill="#cde0f0" stroke="#6c9fd0" stroke-width="0.85"/><ellipse cx="918.55" cy="446.89" rx="2.0" ry="1.55" fill="#cde0f0" stroke="#6c9fd0" stroke-width="0.85"/><ellipse cx="922.20" cy="450.37" rx="2.0" ry="1.55" fill="#cde0f0" stroke="#6c9fd0" stroke-width="0.85"/><ellipse cx="925.85" cy="453.85" rx="2.0" ry="1.55" fill="#cde0f0" stroke="#6c9fd0" stroke-width="0.85"/><ellipse cx="929.50" cy="457.33" rx="2.0" ry="1.55" fill="#cde0f0" stroke="#6c9fd0" stroke-width="0.85"/><ellipse cx="933.15" cy="460.81" rx="2.0" ry="1.55" fill="#cde0f0" stroke="#6c9fd0" stroke-width="0.85"/></g>
<text class="t" x="873.5" y="517" font-size="13.8" textLength="35.5" lengthAdjust="spacingAndGlyphs">ELISA</text>
</svg>
</body></html>
